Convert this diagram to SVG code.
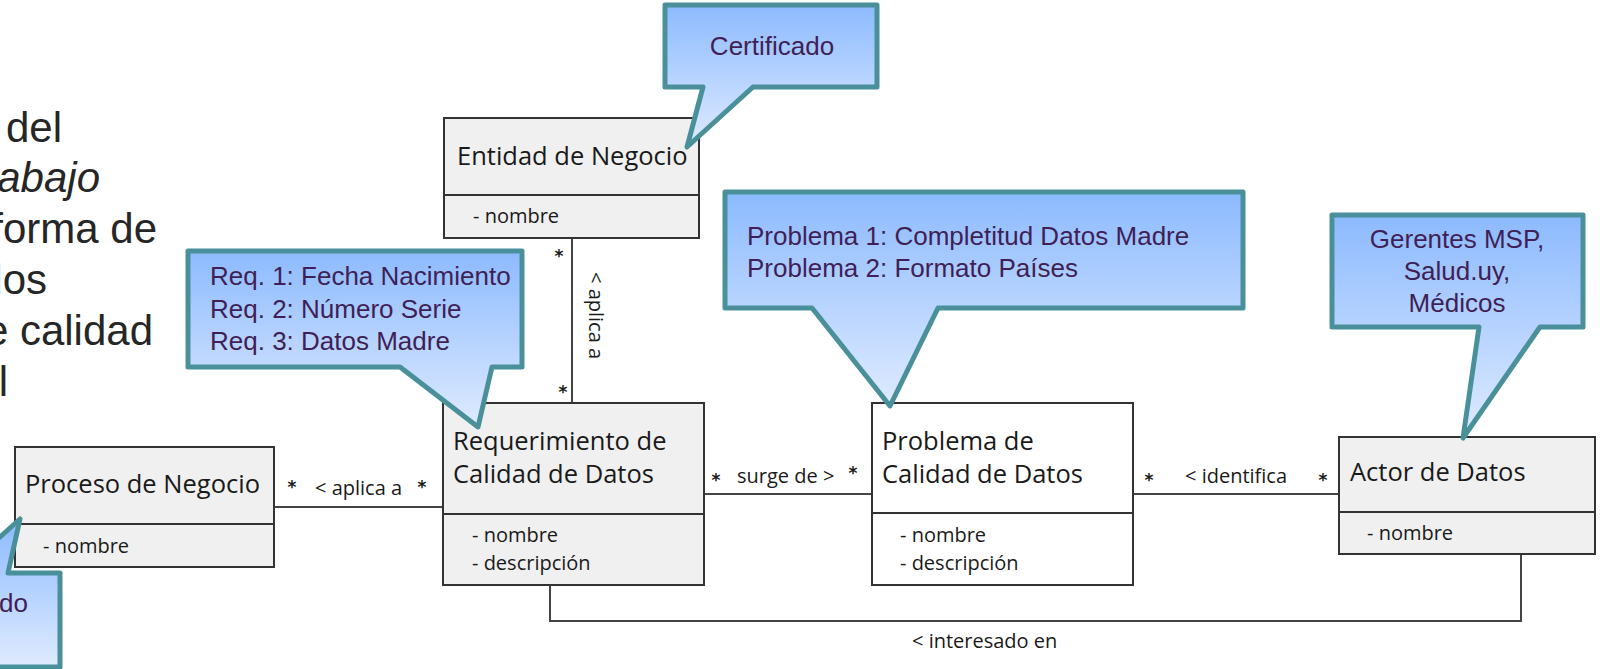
<svg xmlns="http://www.w3.org/2000/svg" width="1600" height="669" viewBox="0 0 1600 669">
<defs>
<linearGradient id="cg" x1="0" y1="0" x2="0" y2="1">
<stop offset="0" stop-color="#8cbaff"/>
<stop offset="1" stop-color="#dfebff"/>
</linearGradient>
</defs>
<style>
.slide{font-family:"Liberation Sans",Arial,sans-serif;font-size:42px;fill:#262626}
.cls{fill:#f0f0f0;stroke:#333;stroke-width:2}
.clsw{fill:#ffffff;stroke:#333;stroke-width:2}
.div{stroke:#333;stroke-width:2}
.ttl{font-family:"Open Sans","Noto Sans",sans-serif;font-size:25.5px;fill:#1a1a1a}
.att{font-family:"Open Sans","Noto Sans",sans-serif;font-size:20px;fill:#1a1a1a}
.lbl{font-family:"Open Sans","Noto Sans",sans-serif;font-size:20px;fill:#1a1a1a}
.star{font-family:"DejaVu Sans",sans-serif;font-size:17px;font-weight:bold;fill:#1a1a1a;text-anchor:middle}
.conn{fill:none;stroke:#444;stroke-width:2}
.callout{fill:url(#cg);stroke:#4a909b;stroke-width:5;stroke-linejoin:round}
.ct{font-family:"Liberation Sans",Arial,sans-serif;font-size:26px;fill:#401f56}
</style>
<rect width="1600" height="669" fill="#ffffff"/>

<g id="slide-text">
<text class="slide" x="62" y="142" text-anchor="end">del</text>
<text class="slide" x="100" y="192" text-anchor="end" font-style="italic">abajo</text>
<text class="slide" x="157" y="243" text-anchor="end">forma de</text>
<text class="slide" x="47" y="294" text-anchor="end">los</text>
<text class="slide" x="153" y="345" text-anchor="end">e calidad</text>
<text class="slide" x="8" y="396" text-anchor="end">l</text>
</g>

<g id="connectors">
<line class="conn" x1="572" y1="238" x2="572" y2="403"/>
<line class="conn" x1="274" y1="507" x2="443" y2="507"/>
<line class="conn" x1="704" y1="494" x2="872" y2="494"/>
<line class="conn" x1="1133" y1="494" x2="1339" y2="494"/>
<path class="conn" d="M550,585 V621 H1521 V554"/>
<text class="star" x="559" y="262">*</text>
<text class="star" x="563" y="398">*</text>
<text class="lbl" font-size="19" transform="translate(589,272) rotate(90)">&lt; aplica a</text>
<text class="star" x="292" y="493">*</text>
<text class="lbl" x="315" y="495">&lt; aplica a</text>
<text class="star" x="422" y="493">*</text>
<text class="star" x="716" y="486">*</text>
<text class="lbl" x="737" y="483">surge de &gt;</text>
<text class="star" x="853" y="479">*</text>
<text class="star" x="1149" y="486">*</text>
<text class="lbl" x="1185" y="483">&lt; identifica</text>
<text class="star" x="1323" y="486">*</text>
<text class="lbl" x="912" y="648">&lt; interesado en</text>
</g>

<g id="entidad-de-negocio">
<rect class="cls" x="444" y="118" width="255" height="120"/>
<line class="div" x1="444" y1="195" x2="699" y2="195"/>
<text class="ttl" x="457" y="165">Entidad de Negocio</text>
<text class="att" x="473" y="223">- nombre</text>
</g>

<g id="proceso-de-negocio">
<rect class="cls" x="15" y="447" width="259" height="120"/>
<line class="div" x1="15" y1="524" x2="274" y2="524"/>
<text class="ttl" x="25" y="493">Proceso de Negocio</text>
<text class="att" x="43" y="553">- nombre</text>
</g>

<g id="requerimiento">
<rect class="cls" x="443" y="403" width="261" height="182"/>
<line class="div" x1="443" y1="514" x2="704" y2="514"/>
<text class="ttl" x="453" y="450">Requerimiento de</text>
<text class="ttl" x="453" y="483">Calidad de Datos</text>
<text class="att" x="472" y="542">- nombre</text>
<text class="att" x="472" y="570">- descripción</text>
</g>

<g id="problema">
<rect class="clsw" x="872" y="403" width="261" height="182"/>
<line class="div" x1="872" y1="513" x2="1133" y2="513"/>
<text class="ttl" x="882" y="450">Problema de</text>
<text class="ttl" x="882" y="483">Calidad de Datos</text>
<text class="att" x="900" y="542">- nombre</text>
<text class="att" x="900" y="570">- descripción</text>
</g>

<g id="actor-de-datos">
<rect class="cls" x="1339" y="437" width="256" height="117"/>
<line class="div" x1="1339" y1="512" x2="1595" y2="512"/>
<text class="ttl" x="1350" y="481">Actor de Datos</text>
<text class="att" x="1367" y="540">- nombre</text>
</g>

<g id="callout-certificado">
<path class="callout" d="M665,5 H877 V87 H753 L687,147 L703,87 H665 Z"/>
<text class="ct" x="772" y="55" text-anchor="middle">Certificado</text>
</g>

<g id="callout-requerimientos">
<path class="callout" d="M188,251 H522 V367 H492 L478,427 L400,367 H188 Z"/>
<text class="ct" x="210" y="285">Req. 1: Fecha Nacimiento</text>
<text class="ct" x="210" y="318">Req. 2: Número Serie</text>
<text class="ct" x="210" y="350">Req. 3: Datos Madre</text>
</g>

<g id="callout-problemas">
<path class="callout" d="M725,192 H1243 V308 H938 L890,406 L812,308 H725 Z"/>
<text class="ct" x="747" y="245">Problema 1: Completitud Datos Madre</text>
<text class="ct" x="747" y="277">Problema 2: Formato Países</text>
</g>

<g id="callout-actores">
<path class="callout" d="M1332,215 H1583 V327 H1540 L1463,438 L1479,327 H1332 Z"/>
<text class="ct" x="1457" y="248" text-anchor="middle">Gerentes MSP,</text>
<text class="ct" x="1457" y="280" text-anchor="middle">Salud.uy,</text>
<text class="ct" x="1457" y="312" text-anchor="middle">Médicos</text>
</g>

<g id="callout-proceso">
<path class="callout" d="M-40,573 L20,519 L8,573 H60 V667 H-40 Z"/>
<text class="ct" x="28" y="612" text-anchor="end">do</text>
</g>
</svg>
